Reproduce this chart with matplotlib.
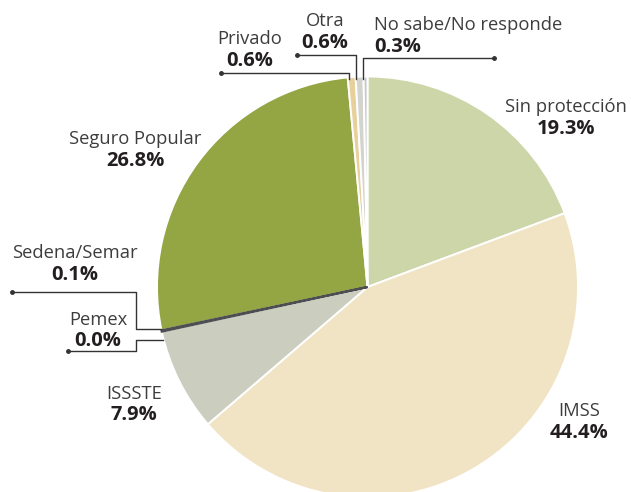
import matplotlib
matplotlib.use('Agg')
import matplotlib.pyplot as plt

## Data (clockwise from the top).
categories = ['Sin protección', 'IMSS', 'ISSSTE', 'Pemex', 'Sedena/Semar',
              'Seguro Popular', 'Privado', 'Otra', 'No sabe/No responde']
shares = [19.3, 44.4, 7.9, 0.0, 0.1, 26.8, 0.6, 0.6, 0.3]
colors = ['#cdd6a9', '#f0e4c4', '#cbcdbf', '#4d4e52', '#4d4e52',
          '#94a544', '#e8d09c', '#d3d4cd', '#c6c7cb']

W, H = 631, 492

## Label placement in pixel coords (x, y of the name, alignment).
label_pos = {
  'Sin protección': (566, 107, 'center'),
  'IMSS': (579, 411, 'center'),
  'ISSSTE': (134, 394, 'center'),
  'Pemex': (98, 320, 'center'),
  'Sedena/Semar': (75, 253, 'center'),
  'Seguro Popular': (135, 139, 'center'),
  'Privado': (250, 39, 'center'),
  'Otra': (325, 21, 'center'),
  'No sabe/No responde': (374, 25, 'left'),
}

## Leader lines (pixel coords) with a dot on the first point.
leaders = {
  'Privado': [(221, 73), (349, 73), (349, 79)],
  'Otra': [(297, 55), (356, 55), (356, 79)],
  'No sabe/No responde': [(494, 58), (363, 58), (363, 79)],
  'Sedena/Semar': [(12, 292), (136, 292), (136, 329), (161, 329)],
  'Pemex': [(68, 351), (136, 351), (136, 340), (163, 340)],
}

fig = plt.figure(figsize=(W / 100, H / 100), dpi=100)
ax = fig.add_axes([0, 0, 1, 1])

cx, cy, r = 367.5, 287, 210.5

wedges, _ = ax.pie(shares, colors=colors, startangle=90, counterclock=False,
                   center=(cx, H - cy), radius=r, frame=True,
                   wedgeprops=dict(edgecolor='white', linewidth=1.4))
ax.set_xlim(0, W)
ax.set_ylim(0, H)
ax.axis('off')

## Make the tiny Sedena/Semar slice visible as a dark line.
wedges[4].set_edgecolor('#4d4e52')
wedges[4].set_linewidth(1.6)
wedges[4].set_zorder(5)

font = 'Open Sans'
for name, value in zip(categories, shares):
  x, y, ha = label_pos[name]
  ax.text(x, H - y, name, ha=ha, va='center', fontsize=13.2, family=font,
          color='#3d3d3d')
  ax.text(x, H - y - 21.5, '%.1f%%' % value, ha=ha, va='center',
          fontsize=14.5, family=font, fontweight='bold', color='#231f20')

for name, pts in leaders.items():
  xs = [p[0] for p in pts]
  ys = [H - p[1] for p in pts]
  ax.plot(xs, ys, color='#333333', linewidth=1.0, zorder=6)
  ax.plot(xs[0], ys[0], 'o', color='#333333', markersize=2.5, zorder=6)

fig.savefig('out.png', dpi=100)
